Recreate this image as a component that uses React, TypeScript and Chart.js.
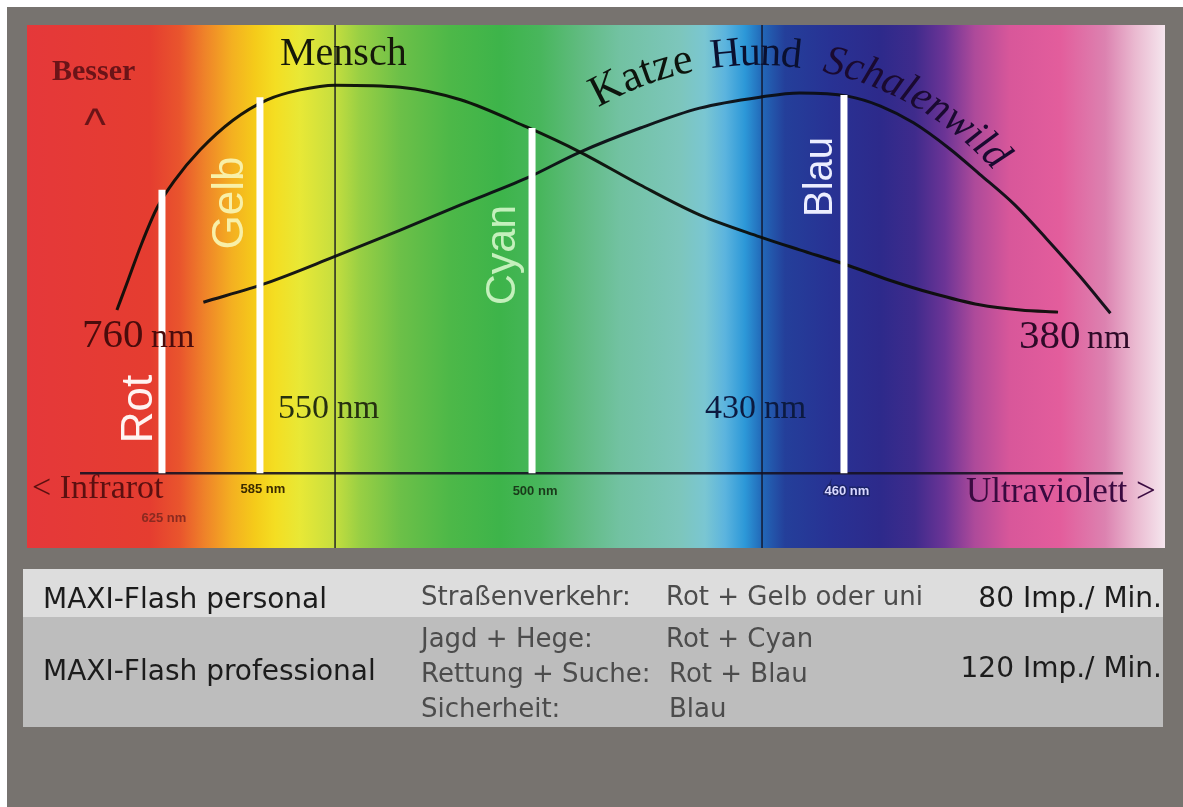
import React, { useEffect, useRef } from "react";
import { Chart, registerables } from "chart.js";

Chart.register(...registerables);

// x = position along the spectrum (0 = infrared edge, 100 = ultraviolet edge)
// y = relative visibility (0 = bottom of panel, 100 = top)
const menschPos = [7.9, 8.88, 10.02, 11.42, 13.01, 15.2, 18.1, 21.1, 24.0, 27.1, 32.8, 38.1, 43.9, 48.6, 53.9, 59.1, 64.4, 67.9, 71.8, 75.8, 79.4, 83.7, 87.3, 90.6];
const menschVal = [45.5, 51.2, 57.9, 65.0, 70.4, 76.1, 81.8, 85.7, 87.6, 88.5, 88.1, 85.7, 80.5, 75.7, 69.4, 63.7, 59.5, 57.0, 54.3, 51.2, 48.8, 46.5, 45.5, 45.1];
const tierPos = [15.5, 21.1, 26.9, 32.8, 38.1, 43.9, 48.6, 53.9, 59.1, 64.4, 67.9, 72.1, 75.0, 77.9, 81.1, 83.7, 86.8, 89.6, 92.5, 95.2];
const tierVal = [47.0, 50.7, 55.6, 60.8, 65.6, 70.7, 75.7, 80.3, 84.1, 86.2, 87.0, 86.4, 84.5, 81.3, 76.3, 71.5, 65.6, 59.1, 52.0, 44.9];

const flashNames = ["Rot", "Gelb", "Cyan", "Blau"];
const flashPos = [11.86, 20.47, 44.38, 71.79];
const flashTop = [68.5, 86.2, 80.3, 86.6];
const flashTicks = ["625 nm", "585 nm", "500 nm", "460 nm"];
const baseLevel = 14.3;
const axisStart = 4.66;
const axisEnd = 96.3;

const guidePos = [27.07, 64.59];
const guideLabels = ["550", "430"];
const edgeLabels = ["760", "380"];

const products = ["MAXI-Flash personal", "MAXI-Flash professional"];
const uses = [["Straßenverkehr:"], ["Jagd + Hege:", "Rettung + Suche:", "Sicherheit:"]];
const combos = [["Rot + Gelb oder uni"], ["Rot + Cyan", "Rot + Blau", "Blau"]];
const rates = ["80 Imp./ Min.", "120 Imp./ Min."];

const SERIF = "'Liberation Serif', 'Times New Roman', serif";
const SANS = "'Liberation Sans', Arial, sans-serif";
const TSANS = "'DejaVu Sans', sans-serif";

const spectrumStops: [number, string][] = [
  [27, "#e5383a"], [150, "#e53d30"], [180, "#e9552d"], [205, "#ef8329"], [232, "#f4b021"],
  [255, "#f5cb1a"], [275, "#f4de22"], [300, "#e8e836"], [333, "#c8df3e"], [360, "#98cf44"],
  [400, "#6cc048"], [450, "#4db848"], [500, "#3db44a"], [540, "#48b65c"], [580, "#60bb80"],
  [620, "#72c2a2"], [680, "#7dc6bc"], [705, "#7ac6d2"], [725, "#5cb4de"], [745, "#2c98d8"],
  [762, "#2268b8"], [785, "#243f9a"], [830, "#283294"], [880, "#2d2a8b"], [915, "#3f2b8c"],
  [945, "#6c3496"], [975, "#ae4a9a"], [1010, "#d8579a"], [1060, "#e35d9c"], [1105, "#dc82b0"],
  [1135, "#eab9d0"], [1165, "#f5e6ee"],
];

function pts(xs: number[], ys: number[]) {
  return xs.map((x, i) => ({ x, y: ys[i] }));
}

const bgPlugin = {
  id: "bg",
  beforeDraw(chart: any) {
    const { ctx, chartArea: a, width, height } = chart;
    ctx.save();
    ctx.fillStyle = "#ffffff";
    ctx.fillRect(0, 0, width, height);
    ctx.fillStyle = "#77736f";
    ctx.fillRect(7, 7, width - 7, height - 7);
    const g = ctx.createLinearGradient(a.left, 0, a.right, 0);
    const span = a.right - a.left;
    spectrumStops.forEach(([px, c]) => g.addColorStop(Math.min(1, Math.max(0, (px - a.left) / span)), c));
    ctx.fillStyle = g;
    ctx.fillRect(a.left, a.top, span, a.bottom - a.top);
    ctx.restore();
  },
};

function text(ctx: CanvasRenderingContext2D, s: string, x: number, y: number, font: string, color: string, align: CanvasTextAlign = "left") {
  ctx.font = font;
  ctx.fillStyle = color;
  ctx.textAlign = align;
  ctx.textBaseline = "alphabetic";
  ctx.fillText(s, x, y);
}

function arcWord(ctx: CanvasRenderingContext2D, word: string, x0: number, x1: number, cx: number, cy: number, R: number, font: string, color: string) {
  ctx.font = font;
  ctx.fillStyle = color;
  ctx.textAlign = "center";
  ctx.textBaseline = "alphabetic";
  const chars = [...word];
  const widths = chars.map((ch) => ctx.measureText(ch).width);
  const total = widths.reduce((p, q) => p + q, 0);
  const a0 = Math.asin((x0 - cx) / R);
  const a1 = Math.asin((x1 - cx) / R);
  let acc = 0;
  chars.forEach((ch, i) => {
    const mid = acc + widths[i] / 2;
    const ang = a0 + ((a1 - a0) * mid) / total;
    const px = cx + R * Math.sin(ang);
    const py = cy - R * Math.cos(ang);
    ctx.save();
    ctx.translate(px, py);
    ctx.rotate(ang);
    ctx.fillText(ch, 0, 0);
    ctx.restore();
    acc += widths[i];
  });
}

const labelPlugin = {
  id: "labels",
  afterDraw(chart: any) {
    const { ctx } = chart;
    const xs = chart.scales.x;
    ctx.save();

    // headings
    text(ctx, "Besser", 52, 80, `bold 30px ${SERIF}`, "#6b1418");
    text(ctx, "^", 95, 140, `46px ${SANS}`, "#6b1418", "center");
    text(ctx, "Mensch", 280, 65, `40px ${SERIF}`, "#15180a");

    // Katze Hund Schalenwild along an arc
    arcWord(ctx, "Katze", 598, 695, 757, 383, 318, `44px ${SERIF}`, "#0d140d");
    arcWord(ctx, "Hund", 712, 800, 757, 383, 318, `42px ${SERIF}`, "#0a1030");
    arcWord(ctx, "Schalenwild", 822, 994, 757, 383, 318, `italic 42px ${SERIF}`, "#1a0a30");

    // edge wavelengths
    text(ctx, edgeLabels[0], 82, 347, `41px ${SERIF}`, "#4a0c0c");
    text(ctx, "nm", 151, 347, `34px ${SERIF}`, "#4a0c0c");
    text(ctx, edgeLabels[1], 1019, 348, `41px ${SERIF}`, "#2e0a28");
    text(ctx, "nm", 1087, 348, `34px ${SERIF}`, "#2e0a28");

    // guide line wavelengths
    const gColors = ["#263010", "#0c1a40"];
    guidePos.forEach((p, i) => {
      const gx = xs.getPixelForValue(p);
      text(ctx, guideLabels[i], gx - 57, 418, `34px ${SERIF}`, gColors[i]);
      text(ctx, "nm", gx + 2, 418, `33px ${SERIF}`, gColors[i]);
    });

    // axis ends
    text(ctx, "< Infrarot", 32, 498, `34px ${SERIF}`, "#5c1010");
    text(ctx, "Ultraviolett >", 966, 502, `35px ${SERIF}`, "#3a0a40");

    // flash bar names (rotated) and small wavelength ticks
    const nameColors = ["#fff4f2", "#f8f0a8", "#c4f0bc", "#eceeff"];
    const nameOffset = [10, 17, 17, 12];
    const nameCenter = [409, 203, 255, 177];
    const nameSize = [44, 44, 43, 40];
    const tickColors = ["#8a2a20", "#3a2a00", "#1a3a1a", "#d8d8ff"];
    const tickY = [522, 493, 495, 495];
    flashNames.forEach((n, i) => {
      const bx = xs.getPixelForValue(flashPos[i]);
      ctx.save();
      ctx.translate(bx - nameOffset[i], nameCenter[i]);
      ctx.rotate(-Math.PI / 2);
      text(ctx, n, 0, 0, `${nameSize[i]}px ${SANS}`, nameColors[i], "center");
      ctx.restore();
      if (i === 3) {
        ctx.font = `bold 13px ${SANS}`;
        ctx.lineWidth = 3;
        ctx.strokeStyle = "#1c2468";
        ctx.textAlign = "center";
        ctx.strokeText(flashTicks[i], bx + 3, tickY[i]);
      }
      text(ctx, flashTicks[i], bx + (i === 0 ? 2 : 3), tickY[i], `bold 13px ${SANS}`, tickColors[i], "center");
    });

    // table
    const L = 23, R = 1163;
    ctx.fillStyle = "#dddddd";
    ctx.fillRect(L, 569, R - L, 48);
    ctx.fillStyle = "#bdbdbd";
    ctx.fillRect(L, 617, R - L, 110);
    const rowBase = [[605], [647, 682, 717]];
    const prodBase = [608, 680];
    const rateBase = [607, 677];
    products.forEach((p, i) => {
      text(ctx, p, 43, prodBase[i], `28px ${TSANS}`, "#1c1c1c");
      uses[i].forEach((u, j) => text(ctx, u, 421, rowBase[i][j], `26px ${TSANS}`, "#4c4c4c"));
      combos[i].forEach((c, j) => text(ctx, c, j === 0 ? 666 : 669, rowBase[i][j], `26px ${TSANS}`, "#4c4c4c"));
      text(ctx, rates[i], 1162, rateBase[i], `28px ${TSANS}`, "#1c1c1c", "right");
    });

    ctx.restore();
  },
};

export default function App() {
  const ref = useRef<HTMLCanvasElement>(null);
  useEffect(() => {
    const canvas = ref.current!;
    const datasets: any[] = [];
    flashNames.forEach((n, i) => {
      datasets.push({
        label: n,
        data: [{ x: flashPos[i], y: baseLevel }, { x: flashPos[i], y: flashTop[i] }],
        borderColor: "#ffffff",
        borderWidth: 7,
        borderCapStyle: "butt",
        pointRadius: 0,
        order: 0,
      });
    });
    datasets.push({
      label: "Mensch",
      data: pts(menschPos, menschVal),
      borderColor: "rgba(12,14,10,0.95)",
      borderWidth: 3,
      cubicInterpolationMode: "monotone",
      pointRadius: 0,
      order: 1,
    });
    datasets.push({
      label: "Katze Hund Schalenwild",
      data: pts(tierPos, tierVal),
      borderColor: "rgba(12,14,20,0.95)",
      borderWidth: 3,
      cubicInterpolationMode: "monotone",
      pointRadius: 0,
      order: 1,
    });
    guidePos.forEach((p, i) => {
      datasets.push({
        label: guideLabels[i] + " nm",
        data: [{ x: p, y: 0 }, { x: p, y: 100 }],
        borderColor: "rgba(18,18,34,0.9)",
        borderWidth: 1.5,
        pointRadius: 0,
        order: 2,
      });
    });
    datasets.push({
      label: "axis",
      data: [{ x: axisStart, y: baseLevel }, { x: axisEnd, y: baseLevel }],
      borderColor: "rgba(22,18,34,0.9)",
      borderWidth: 2.5,
      pointRadius: 0,
      order: 2,
    });

    const chart = new Chart(canvas, {
      type: "line",
      data: { datasets },
      options: {
        animation: false,
        responsive: false,
        devicePixelRatio: 1,
        layout: { padding: { left: 27, right: 18, top: 25, bottom: 259 } },
        scales: {
          x: { type: "linear", min: 0, max: 100, display: false },
          y: { type: "linear", min: 0, max: 100, display: false },
        },
        plugins: { legend: { display: false }, tooltip: { enabled: false } },
      },
      plugins: [bgPlugin, labelPlugin],
    } as any);
    return () => chart.destroy();
  }, []);
  return (
    <canvas
      ref={ref}
      width={1183}
      height={807}
      style={{ position: "fixed", left: 0, top: 0, width: 1183, height: 807, display: "block" }}
    />
  );
}
